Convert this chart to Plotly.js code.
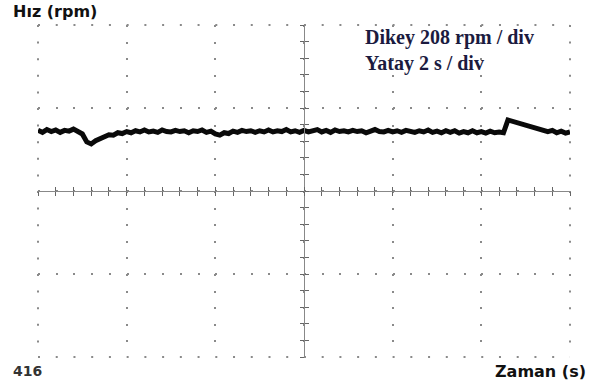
<!DOCTYPE html>
<html>
<head>
<meta charset="utf-8">
<script src="https://cdn.plot.ly/plotly-3.0.1.min.js"></script>
<style>html,body{margin:0;padding:0;background:#fff;}#chart{width:598px;height:388px;}</style>
</head>
<body>
<div id="chart"></div>
<script>
// Time samples (s) — horizontal 2 s / div, 6 divisions
const timeS = [
  0.0,0.1,0.2,0.3,0.4,0.5,0.6,0.7,0.8,0.9,
  1.0,1.1,1.2,1.3,1.4,1.5,1.6,1.7,1.8,1.9,
  2.0,2.1,2.2,2.3,2.4,2.5,2.6,2.7,2.8,2.9,
  3.0,3.1,3.2,3.3,3.4,3.5,3.6,3.7,3.8,3.9,
  4.0,4.1,4.2,4.3,4.4,4.5,4.6,4.7,4.8,4.9,
  5.0,5.1,5.2,5.3,5.4,5.5,5.6,5.7,5.8,5.9,
  6.0,6.1,6.2,6.3,6.4,6.5,6.6,6.7,6.8,6.9,
  7.0,7.1,7.2,7.3,7.4,7.5,7.6,7.7,7.8,7.9,
  8.0,8.1,8.2,8.3,8.4,8.5,8.6,8.7,8.8,8.9,
  9.0,9.1,9.2,9.3,9.4,9.5,9.6,9.7,9.8,9.9,
  10.0,10.1,10.2,10.3,10.4,10.5,10.6,10.7,10.8,10.9,
  11.0,11.1,11.2,11.3,11.4,11.5,11.6,11.7,11.8,11.9,
  12.0
];
// Speed (rpm) — vertical 208 rpm / div, bottom at 416
const speedRpm = [
  984,979,986,981,985,979,984,982,987,980,
  975,955,950,958,964,968,973,972,978,976,
  981,978,983,980,985,980,982,979,985,981,
  980,984,981,983,978,983,981,985,979,982,
  975,972,978,976,982,979,984,981,983,979,
  983,980,985,980,983,981,986,980,983,979,
  984,980,983,986,980,984,979,985,981,983,
  980,984,981,983,978,983,986,981,980,984,
  980,983,979,984,981,979,983,980,985,979,
  982,978,983,979,983,977,981,978,983,978,
  981,977,982,978,980,978,1010,1007,1004,1001,
  998,996,992,989,986,981,984,978,982,977,
  980
];
const xRange = [0, 12];
const yRange = [416, 1248];
const labels = {
  yName: 'Hız (rpm)',
  xName: 'Zaman (s)',
  yMin: '416',
  note1: 'Dikey 208 rpm / div',
  note2: 'Yatay 2 s / div'
};

const traces = [
  {x: timeS, y: speedRpm, type: 'scatter', mode: 'lines',
   line: {color: '#0a0a0a', width: 5}, hoverinfo: 'skip', xaxis: 'x', yaxis: 'y'},
  {x: [], y: [], type: 'scatter', mode: 'markers', xaxis: 'x2', yaxis: 'y2', hoverinfo: 'skip'},
  {x: [], y: [], type: 'scatter', mode: 'markers', xaxis: 'x3', yaxis: 'y3', hoverinfo: 'skip'}
];

const base = {showticklabels: false, zeroline: false, fixedrange: true};
const crossX = Object.assign({}, base, {range: xRange, overlaying: 'x', anchor: 'free', position: 0.5,
  showgrid: false, showline: true, linecolor: '#888', linewidth: 1,
  tick0: 0, dtick: 0.4, ticklen: 4, tickwidth: 1, tickcolor: '#666'});
const crossY = Object.assign({}, base, {range: yRange, overlaying: 'y', anchor: 'free', position: 0.5,
  showgrid: false, showline: true, linecolor: '#888', linewidth: 1,
  tick0: 416, dtick: 41.6, ticklen: 4, tickwidth: 1, tickcolor: '#666'});

const gridColor = '#8a8a8a';
const vDash = '2px,14.6px';
const hDash = '2px,15.73px';
function edge(x0, y0, x1, y1, dash) {
  return {type: 'line', xref: 'paper', yref: 'paper', x0: x0, y0: y0, x1: x1, y1: y1,
          layer: 'below', line: {color: gridColor, width: 2, dash: dash}};
}

const annFont = {family: 'DejaVu Sans', size: 16, color: '#111'};
const noteFont = {family: 'Liberation Serif', size: 20, color: '#1b1b3f'};

const layout = {
  width: 598, height: 388,
  margin: {l: 38, r: 28, t: 25, b: 31, pad: 0},
  paper_bgcolor: '#fff', plot_bgcolor: '#fff',
  showlegend: false,
  xaxis: Object.assign({}, base, {range: xRange, tick0: 0, dtick: 2, ticks: '',
    showgrid: true, gridcolor: gridColor, gridwidth: 2, griddash: vDash, showline: false}),
  yaxis: Object.assign({}, base, {range: yRange, tick0: 416, dtick: 208, ticks: '',
    showgrid: true, gridcolor: gridColor, gridwidth: 2, griddash: hDash, showline: false}),
  xaxis2: Object.assign({}, crossX, {ticks: 'inside'}),
  xaxis3: Object.assign({}, crossX, {ticks: 'outside'}),
  yaxis2: Object.assign({}, crossY, {ticks: 'inside'}),
  yaxis3: Object.assign({}, crossY, {ticks: 'outside'}),
  shapes: [
    edge(0, 1, 0, 0, vDash),
    edge(1, 1, 1, 0, vDash),
    edge(0, 1, 1, 1, hDash),
    edge(0, 0, 1, 0, hDash)
  ],
  annotations: [
    {text: '<b>' + labels.yName + '</b>', xref: 'paper', yref: 'paper', x: -0.05, y: 1.042,
     xanchor: 'left', yanchor: 'middle', showarrow: false, font: Object.assign({}, annFont)},
    {text: '<b>' + labels.xName + '</b>', xref: 'paper', yref: 'paper', x: 1.034, y: -0.045,
     xanchor: 'right', yanchor: 'middle', showarrow: false, font: Object.assign({}, annFont)},
    {text: '<b>' + labels.yMin + '</b>', xref: 'paper', yref: 'paper', x: -0.05, y: -0.042,
     xanchor: 'left', yanchor: 'middle', showarrow: false, font: {family: 'DejaVu Sans', size: 14, color: '#333'}},
    {text: '<b>' + labels.note1 + '</b><br><b>' + labels.note2 + '</b>', xref: 'paper', yref: 'paper',
     x: 0.61, y: 0.922, xanchor: 'left', yanchor: 'middle', align: 'left', showarrow: false, font: noteFont}
  ]
};

Plotly.newPlot('chart', traces, layout, {displayModeBar: false, staticPlot: true});
</script>
</body>
</html>
